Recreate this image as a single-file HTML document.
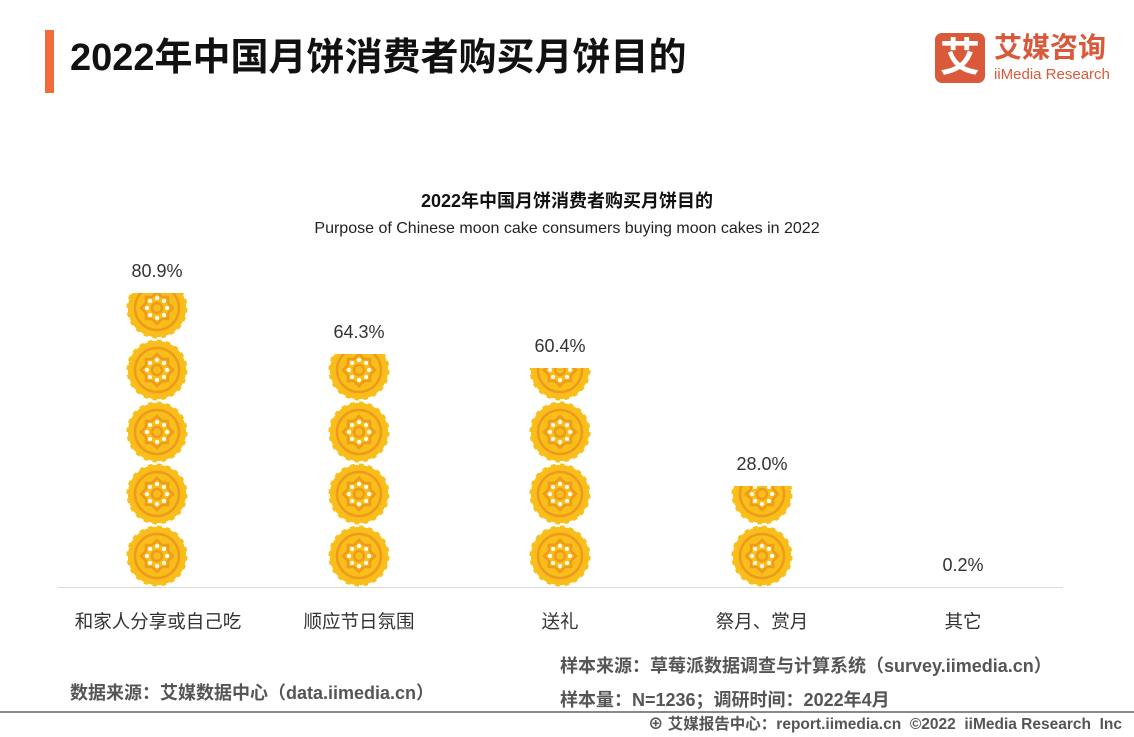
<!DOCTYPE html>
<html><head><meta charset="utf-8"><style>
body{margin:0;width:1134px;height:737px;background:#fff;overflow:hidden;position:relative;font-family:"Liberation Sans","Noto Sans CJK SC",sans-serif;}
.a{position:absolute;white-space:nowrap;}
</style></head><body>
<div class="a" style="left:45px;top:30px;width:9px;height:63px;background:#F26B3A"></div>
<div class="a" style="left:70px;top:33px;font-size:38px;font-weight:bold;color:#111;line-height:50px">2022年中国月饼消费者购买月饼目的</div>
<div class="a" style="left:935px;top:33px;width:50px;height:50px;background:#D9593A;border-radius:7px;color:#fff;font-size:40px;font-weight:bold;text-align:center;line-height:50px">艾</div>
<div class="a" style="left:994px;top:30px;font-size:28px;font-weight:bold;color:#D9593A;line-height:36px">艾媒咨询</div>
<div class="a" style="left:994px;top:66px;font-size:15px;color:#D9593A;line-height:18px">iiMedia Research</div>
<div class="a" style="left:0;width:1134px;top:187px;text-align:center;font-size:18px;font-weight:bold;color:#111">2022年中国月饼消费者购买月饼目的</div>
<div class="a" style="left:0;width:1134px;top:220px;text-align:center;font-size:16px;color:#222">Purpose of Chinese moon cake consumers buying moon cakes in 2022</div>
<svg class="a" style="left:0;top:0" width="1134" height="737">
<defs>
<g id="cake">
<circle r="29" fill="#F9BE1A" stroke="#F9BE1A" stroke-width="3" stroke-dasharray="4.5 4.6"/>
<circle r="29" fill="#F9BE1A"/>
<circle r="22" fill="none" stroke="#EE9A1D" stroke-width="2.5"/>
<polygon points="0,-16 5,-11 11,-11 11,-5 16,0 11,5 11,11 5,11 0,16 -5,11 -11,11 -11,5 -16,0 -11,-5 -11,-11 -5,-11" fill="none" stroke="#EE9A1D" stroke-width="2.5"/>
<circle r="5" fill="none" stroke="#EE9A1D" stroke-width="2.5"/>
<g fill="#fff"><circle cx="0" cy="-10" r="2"/><circle cx="0" cy="10" r="2"/><circle cx="10" cy="0" r="2"/><circle cx="-10" cy="0" r="2"/><circle cx="7" cy="7" r="2"/><circle cx="-7" cy="7" r="2"/><circle cx="7" cy="-7" r="2"/><circle cx="-7" cy="-7" r="2"/></g>
</g>
<g id="col"><use href="#cake" y="556"/><use href="#cake" y="494"/><use href="#cake" y="432"/><use href="#cake" y="370"/><use href="#cake" y="308"/></g>
<clipPath id="c1"><rect x="100" y="293" width="120" height="294"/></clipPath>
<clipPath id="c2"><rect x="300" y="354" width="120" height="233"/></clipPath>
<clipPath id="c3"><rect x="500" y="368" width="120" height="219"/></clipPath>
<clipPath id="c4"><rect x="700" y="486" width="120" height="101"/></clipPath>
</defs>
<g clip-path="url(#c1)"><use href="#col" x="157"/></g>
<g clip-path="url(#c2)"><use href="#col" x="359"/></g>
<g clip-path="url(#c3)"><use href="#col" x="560"/></g>
<g clip-path="url(#c4)"><use href="#col" x="762"/></g>
<line x1="58" y1="587.5" x2="1063" y2="587.5" stroke="#d9d9d9"/>
<line x1="0" y1="712" x2="1134" y2="712" stroke="#888" stroke-width="2"/>
<g font-size="18" fill="#333" text-anchor="middle" font-family="Liberation Sans,Noto Sans CJK SC,sans-serif">
<text x="157" y="277">80.9%</text><text x="359" y="338">64.3%</text><text x="560" y="352">60.4%</text><text x="762" y="470">28.0%</text><text x="963" y="571">0.2%</text>
</g>
<g font-size="18.5" fill="#333" text-anchor="middle" font-family="Liberation Sans,Noto Sans CJK SC,sans-serif">
<text x="158" y="628">和家人分享或自己吃</text><text x="359" y="628">顺应节日氛围</text><text x="560" y="628">送礼</text><text x="762" y="628">祭月、赏月</text><text x="963" y="628">其它</text>
</g>
</svg>
<div class="a" style="left:70px;top:679px;font-size:18px;font-weight:bold;color:#555">数据来源：艾媒数据中心（data.iimedia.cn）</div>
<div class="a" style="left:560px;top:652px;font-size:18px;font-weight:bold;color:#555">样本来源：草莓派数据调查与计算系统（survey.iimedia.cn）</div>
<div class="a" style="left:560px;top:686px;font-size:18px;font-weight:bold;color:#555">样本量：N=1236；调研时间：2022年4月</div>
<div class="a" style="left:648px;top:712px;font-size:15.5px;font-weight:bold;color:#555">⊕ 艾媒报告中心：report.iimedia.cn &nbsp;©2022 &nbsp;iiMedia Research &nbsp;Inc</div>
</body></html>
